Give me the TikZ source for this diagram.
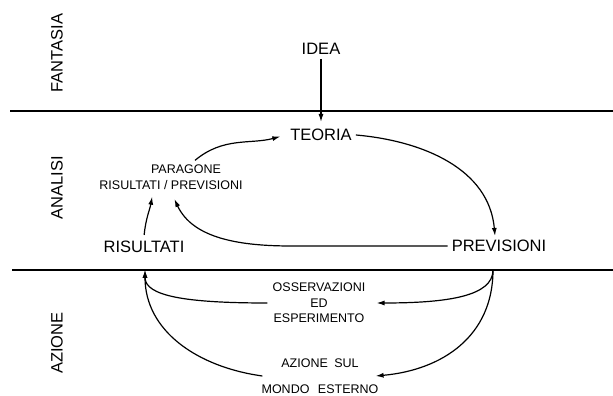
\documentclass[tikz,border=0pt]{standalone}
\usepackage{fontspec}
\setmainfont{Liberation Sans}
\usetikzlibrary{arrows.meta}
\begin{document}
\begin{tikzpicture}[x=1pt, y=1pt,
    big/.style={font=\fontsize{16.5}{20}\selectfont, inner sep=4pt},
    small/.style={font=\fontsize{12.5}{15.5}\selectfont, inner sep=2pt, align=center},
    arr/.style={-{Latex[length=8pt,width=5pt]}, line width=1.2pt},
    border/.style={line width=1.6pt}]
  \useasboundingbox (0,0) rectangle (613,396);

  % Zone borders
  \draw[border] (10,285) -- (613,285);
  \draw[border] (12,126) -- (613,126);

  % Zone names (vertical)
  \foreach \name/\y [count=\i] in {FANTASIA/343, ANALISI/208, AZIONE/53} {
    \node[big, rotate=90] (zone\i) at (57,\y) {\name};
  }

  % Steps of the method
  \node[big] (idea) at (321,347) {IDEA};
  \node[big] (teoria) at (321,261) {TEORIA};
  \node[big] (prev) at (499,150) {PREVISIONI};
  \node[big] (ris) at (144,149) {RISULTATI};
  \node[small] (parag) at (186,227) {PARAGONE};
  \node[small] (confr) at (171,211) {RISULTATI / PREVISIONI};
  \node[small] (oss) at (319,93) {OSSERVAZIONI\\ED\\ESPERIMENTO};
  \node[small] (azione) at (320,20) {AZIONE\hspace{3pt} SUL\\[10.5pt]MONDO\hspace{5pt} ESTERNO};

  % Points where the loops cross the lower border
  \coordinate (rj) at (145,126);
  \coordinate (pj) at (493,126);

  % Upper loop
  \draw[arr, shorten >=3pt] (idea) -- (teoria);
  \draw[arr, shorten >=6pt] ([xshift=9pt,yshift=2pt]parag.north) to[out=40,in=195] (teoria.west);
  \draw[arr] (teoria.east) to[out=-5,in=95] ([xshift=-4pt]prev.north);
  \draw[arr, shorten >=8pt] (prev.west) -- ++(-156,0) to[out=180,in=-65] (confr.south);
  \draw[arr, shorten <=2pt, shorten >=5pt] (ris.north) to[out=85,in=-100] ([xshift=-18pt]confr.south);

  % Lower loops
  \draw[arr] (pj) .. controls +(0,-26) and +(72,0) .. ([xshift=9pt]oss.east);
  \draw[arr] ([xshift=-3pt]oss.west) .. controls +(-82,0) and +(0,-26) .. (rj);
  \draw[arr] (pj) .. controls +(0,-66) and +(67,6) .. ([xshift=-5pt]azione.east);
  \draw[arr] ([xshift=3pt]azione.west) .. controls +(-65,9) and +(0,-61) .. (rj);
\end{tikzpicture}
\end{document}
